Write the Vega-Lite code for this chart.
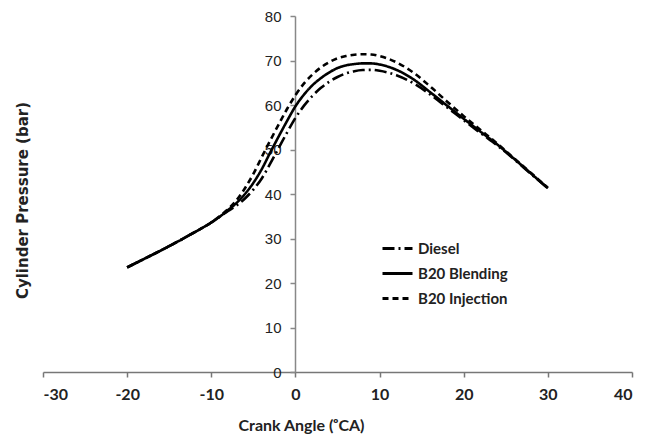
{
  "$schema": "https://vega.github.io/schema/vega-lite/v6.json",
  "width": 589,
  "height": 356,
  "autosize": {"type": "none"},
  "padding": {"left": 43, "top": 16, "right": 20, "bottom": 63},
  "background": "white",
  "config": {"view": {"stroke": null}},
  "data": {"values": [
    {"ca": -20, "p": 23.5, "s": "Diesel"}, {"ca": -18, "p": 25.4, "s": "Diesel"}, {"ca": -16, "p": 27.3, "s": "Diesel"}, {"ca": -14, "p": 29.3, "s": "Diesel"}, {"ca": -12, "p": 31.4, "s": "Diesel"}, {"ca": -10, "p": 33.6, "s": "Diesel"}, {"ca": -9, "p": 34.9, "s": "Diesel"}, {"ca": -8, "p": 36.2, "s": "Diesel"}, {"ca": -7, "p": 37.4, "s": "Diesel"}, {"ca": -6, "p": 39.0, "s": "Diesel"}, {"ca": -5, "p": 41.0, "s": "Diesel"}, {"ca": -4, "p": 43.5, "s": "Diesel"}, {"ca": -3, "p": 46.8, "s": "Diesel"}, {"ca": -2, "p": 50.3, "s": "Diesel"}, {"ca": -1, "p": 53.8, "s": "Diesel"}, {"ca": 0, "p": 57.1, "s": "Diesel"}, {"ca": 1, "p": 59.8, "s": "Diesel"}, {"ca": 2, "p": 62.0, "s": "Diesel"}, {"ca": 3, "p": 63.8, "s": "Diesel"}, {"ca": 4, "p": 65.2, "s": "Diesel"}, {"ca": 5, "p": 66.3, "s": "Diesel"}, {"ca": 6, "p": 67.1, "s": "Diesel"}, {"ca": 7, "p": 67.6, "s": "Diesel"}, {"ca": 8, "p": 67.85, "s": "Diesel"}, {"ca": 9, "p": 67.9, "s": "Diesel"}, {"ca": 10, "p": 67.7, "s": "Diesel"}, {"ca": 12, "p": 66.7, "s": "Diesel"}, {"ca": 14, "p": 64.9, "s": "Diesel"}, {"ca": 16, "p": 62.4, "s": "Diesel"}, {"ca": 18, "p": 59.5, "s": "Diesel"}, {"ca": 20, "p": 56.6, "s": "Diesel"}, {"ca": 22, "p": 53.7, "s": "Diesel"}, {"ca": 24, "p": 50.9, "s": "Diesel"}, {"ca": 26, "p": 47.8, "s": "Diesel"}, {"ca": 28, "p": 44.5, "s": "Diesel"}, {"ca": 30, "p": 41.3, "s": "Diesel"},
    {"ca": -20, "p": 23.5, "s": "B20 Blending"}, {"ca": -18, "p": 25.4, "s": "B20 Blending"}, {"ca": -16, "p": 27.3, "s": "B20 Blending"}, {"ca": -14, "p": 29.3, "s": "B20 Blending"}, {"ca": -12, "p": 31.4, "s": "B20 Blending"}, {"ca": -10, "p": 33.6, "s": "B20 Blending"}, {"ca": -9, "p": 34.9, "s": "B20 Blending"}, {"ca": -8, "p": 36.4, "s": "B20 Blending"}, {"ca": -7, "p": 38.0, "s": "B20 Blending"}, {"ca": -6, "p": 40.0, "s": "B20 Blending"}, {"ca": -5, "p": 42.5, "s": "B20 Blending"}, {"ca": -4, "p": 45.6, "s": "B20 Blending"}, {"ca": -3, "p": 49.3, "s": "B20 Blending"}, {"ca": -2, "p": 52.9, "s": "B20 Blending"}, {"ca": -1, "p": 56.4, "s": "B20 Blending"}, {"ca": 0, "p": 59.7, "s": "B20 Blending"}, {"ca": 1, "p": 62.3, "s": "B20 Blending"}, {"ca": 2, "p": 64.4, "s": "B20 Blending"}, {"ca": 3, "p": 66.0, "s": "B20 Blending"}, {"ca": 4, "p": 67.3, "s": "B20 Blending"}, {"ca": 5, "p": 68.3, "s": "B20 Blending"}, {"ca": 6, "p": 68.9, "s": "B20 Blending"}, {"ca": 7, "p": 69.2, "s": "B20 Blending"}, {"ca": 8, "p": 69.35, "s": "B20 Blending"}, {"ca": 9, "p": 69.35, "s": "B20 Blending"}, {"ca": 10, "p": 69.1, "s": "B20 Blending"}, {"ca": 12, "p": 67.9, "s": "B20 Blending"}, {"ca": 14, "p": 65.8, "s": "B20 Blending"}, {"ca": 16, "p": 62.9, "s": "B20 Blending"}, {"ca": 18, "p": 59.9, "s": "B20 Blending"}, {"ca": 20, "p": 56.9, "s": "B20 Blending"}, {"ca": 22, "p": 54.0, "s": "B20 Blending"}, {"ca": 24, "p": 51.1, "s": "B20 Blending"}, {"ca": 26, "p": 47.9, "s": "B20 Blending"}, {"ca": 28, "p": 44.6, "s": "B20 Blending"}, {"ca": 30, "p": 41.3, "s": "B20 Blending"},
    {"ca": -20, "p": 23.5, "s": "B20 Injection"}, {"ca": -18, "p": 25.4, "s": "B20 Injection"}, {"ca": -16, "p": 27.3, "s": "B20 Injection"}, {"ca": -14, "p": 29.3, "s": "B20 Injection"}, {"ca": -12, "p": 31.4, "s": "B20 Injection"}, {"ca": -10, "p": 33.6, "s": "B20 Injection"}, {"ca": -9, "p": 35.0, "s": "B20 Injection"}, {"ca": -8, "p": 36.6, "s": "B20 Injection"}, {"ca": -7, "p": 38.6, "s": "B20 Injection"}, {"ca": -6, "p": 41.3, "s": "B20 Injection"}, {"ca": -5, "p": 44.5, "s": "B20 Injection"}, {"ca": -4, "p": 48.3, "s": "B20 Injection"}, {"ca": -3, "p": 52.0, "s": "B20 Injection"}, {"ca": -2, "p": 55.6, "s": "B20 Injection"}, {"ca": -1, "p": 59.1, "s": "B20 Injection"}, {"ca": 0, "p": 62.2, "s": "B20 Injection"}, {"ca": 1, "p": 64.8, "s": "B20 Injection"}, {"ca": 2, "p": 66.8, "s": "B20 Injection"}, {"ca": 3, "p": 68.4, "s": "B20 Injection"}, {"ca": 4, "p": 69.6, "s": "B20 Injection"}, {"ca": 5, "p": 70.5, "s": "B20 Injection"}, {"ca": 6, "p": 71.0, "s": "B20 Injection"}, {"ca": 7, "p": 71.3, "s": "B20 Injection"}, {"ca": 8, "p": 71.4, "s": "B20 Injection"}, {"ca": 9, "p": 71.35, "s": "B20 Injection"}, {"ca": 10, "p": 71.0, "s": "B20 Injection"}, {"ca": 12, "p": 69.6, "s": "B20 Injection"}, {"ca": 14, "p": 67.3, "s": "B20 Injection"}, {"ca": 16, "p": 64.2, "s": "B20 Injection"}, {"ca": 18, "p": 60.8, "s": "B20 Injection"}, {"ca": 20, "p": 57.5, "s": "B20 Injection"}, {"ca": 22, "p": 54.4, "s": "B20 Injection"}, {"ca": 24, "p": 51.3, "s": "B20 Injection"}, {"ca": 26, "p": 48.0, "s": "B20 Injection"}, {"ca": 28, "p": 44.7, "s": "B20 Injection"}, {"ca": 30, "p": 41.4, "s": "B20 Injection"}
  ]},
  "mark": {"type": "line", "color": "black", "strokeWidth": 2.6, "interpolate": "monotone"},
  "encoding": {
    "x": {
      "field": "ca", "type": "quantitative",
      "scale": {"domain": [-30, 40], "nice": false, "zero": false},
      "axis": {
        "values": [-30, -20, -10, 0, 10, 20, 30, 40],
        "labelExpr": "'' + datum.value",
        "grid": false,
        "domainColor": "#777", "domainWidth": 1.5,
        "tickColor": "#777", "tickSize": 5, "tickWidth": 1.5,
        "labelFont": "Lato", "labelFontWeight": "bold", "labelFontSize": 16, "labelColor": "#222", "labelPadding": 9,
        "title": "Crank Angle (ᵒCA)",
        "titleFont": "Lato", "titleFontWeight": "bold", "titleFontSize": 16, "titleColor": "#222",
        "titleX": 258, "titleY": 53, "titleBaseline": "middle", "titleAlign": "center"
      }
    },
    "y": {
      "field": "p", "type": "quantitative",
      "scale": {"domain": [0, 80], "nice": false},
      "axis": {
        "values": [0, 10, 20, 30, 40, 50, 60, 70, 80],
        "grid": false,
        "offset": -252,
        "domainColor": "#888", "domainWidth": 1.5,
        "tickColor": "#888", "tickSize": 5, "tickWidth": 1.5,
        "labelFont": "Liberation Sans", "labelFontSize": 15, "labelColor": "#222", "labelPadding": 9,
        "title": "Cylinder Pressure (bar)",
        "titleFont": "DejaVu Sans", "titleFontWeight": "bold", "titleFontSize": 15, "titleColor": "#222",
        "titleX": -273, "titleY": 184, "titleAngle": -90, "titleBaseline": "middle", "titleAlign": "center"
      }
    },
    "strokeDash": {
      "field": "s", "type": "nominal",
      "scale": {"domain": ["Diesel", "B20 Blending", "B20 Injection"], "range": [[12, 4, 2, 4], [1, 0], [6, 4]]},
      "legend": {
        "title": null,
        "orient": "none", "legendX": 338, "legendY": 216,
        "symbolType": "stroke", "symbolSize": 900, "symbolStrokeWidth": 3, "symbolStrokeColor": "black",
        "labelFont": "Lato", "labelFontWeight": "bold", "labelFontSize": 15, "labelColor": "#222", "labelOffset": 4,
        "rowPadding": -4
      }
    },
    "order": {"field": "ca", "type": "quantitative"}
  }
}
